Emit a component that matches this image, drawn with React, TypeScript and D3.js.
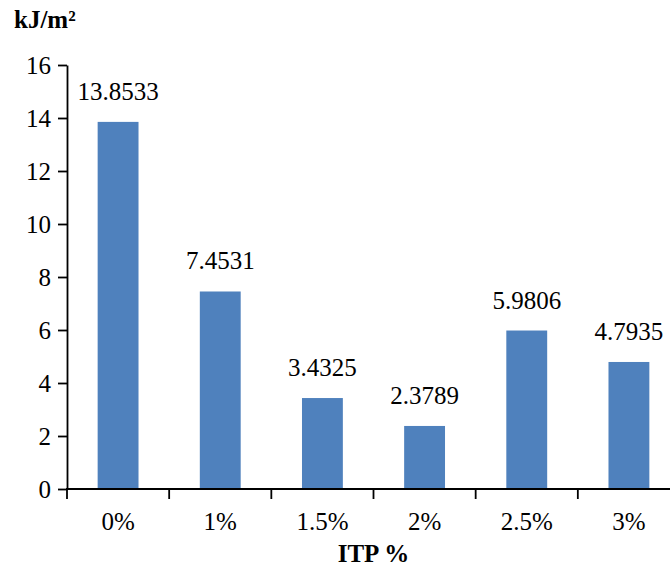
import React, { useRef, useEffect } from 'react';
import * as d3 from 'd3';

const categories = ['0%', '1%', '1.5%', '2%', '2.5%', '3%'];
const values = [13.8533, 7.4531, 3.4325, 2.3789, 5.9806, 4.7935];
const yTicks = [0, 2, 4, 6, 8, 10, 12, 14, 16];

const WIDTH = 670;
const HEIGHT = 566;
const FONT = 'Liberation Serif';
const BAR_COLOR = '#4f81bd';

const App: React.FC = () => {
  const svgRef = useRef<SVGSVGElement>(null);

  useEffect(() => {
    if (!svgRef.current) return;
    const svg = d3.select(svgRef.current);
    svg.selectAll('*').remove();

    const left = 67;
    const bottom = 489;
    const top = 65;

    const x = d3.scaleBand<string>()
      .domain(categories)
      .range([left, 680])
      .paddingInner(0.6)
      .paddingOuter(0.3);

    const y = d3.scaleLinear()
      .domain([0, 16])
      .range([bottom, top]);

    // Bars
    svg.append('g')
      .selectAll('rect')
      .data(values)
      .enter().append('rect')
      .attr('x', (_, i) => x(categories[i]) || 0)
      .attr('y', d => y(d))
      .attr('width', x.bandwidth())
      .attr('height', d => y(0) - y(d))
      .attr('fill', BAR_COLOR);

    // Value labels
    svg.append('g')
      .selectAll('text')
      .data(values)
      .enter().append('text')
      .attr('x', (_, i) => (x(categories[i]) || 0) + x.bandwidth() / 2)
      .attr('y', d => y(d) - 22)
      .attr('text-anchor', 'middle')
      .style('font-family', FONT)
      .style('font-size', '25px')
      .attr('fill', '#000')
      .text(d => d.toFixed(4));

    // Y axis
    const yAxis = svg.append('g')
      .attr('transform', `translate(${left},0)`)
      .call(d3.axisLeft(y).tickValues(yTicks).tickSize(9).tickPadding(7).tickSizeOuter(0));
    yAxis.attr('font-family', FONT).attr('font-size', 25);
    yAxis.select('.domain').attr('stroke', '#000').attr('stroke-width', 1.8);
    yAxis.selectAll('.tick line').attr('stroke', '#000').attr('stroke-width', 1.8);
    yAxis.selectAll('.tick text')
      .style('font-family', FONT)
      .style('font-size', '25px')
      .attr('fill', '#000');

    // X axis
    const gap = x.step() - x.bandwidth();
    svg.append('line')
      .attr('x1', left - 1).attr('x2', WIDTH)
      .attr('y1', bottom).attr('y2', bottom)
      .attr('stroke', '#000')
      .attr('stroke-width', 1.8);

    svg.append('g')
      .selectAll('line')
      .data(categories)
      .enter().append('line')
      .attr('x1', d => (x(d) || 0) - gap / 2)
      .attr('x2', d => (x(d) || 0) - gap / 2)
      .attr('y1', bottom)
      .attr('y2', bottom + 10)
      .attr('stroke', '#000')
      .attr('stroke-width', 1.8);

    svg.append('g')
      .selectAll('text')
      .data(categories)
      .enter().append('text')
      .attr('x', d => (x(d) || 0) + x.bandwidth() / 2)
      .attr('y', bottom + 41)
      .attr('text-anchor', 'middle')
      .style('font-family', FONT)
      .style('font-size', '25px')
      .attr('fill', '#000')
      .text(d => d);

    // Axis titles
    svg.append('text')
      .attr('x', 14)
      .attr('y', 28)
      .style('font-family', FONT)
      .style('font-size', '25px')
      .style('font-weight', 'bold')
      .attr('fill', '#000')
      .text('kJ/m²');

    svg.append('text')
      .attr('x', (left + 680) / 2)
      .attr('y', 562)
      .attr('text-anchor', 'middle')
      .style('font-family', FONT)
      .style('font-size', '25px')
      .style('font-weight', 'bold')
      .attr('fill', '#000')
      .text('ITP %');
  }, []);

  return (
    <svg
      ref={svgRef}
      width={WIDTH}
      height={HEIGHT}
      style={{ position: 'absolute', left: 0, top: 0, background: '#fff' }}
    />
  );
};

export default App;
